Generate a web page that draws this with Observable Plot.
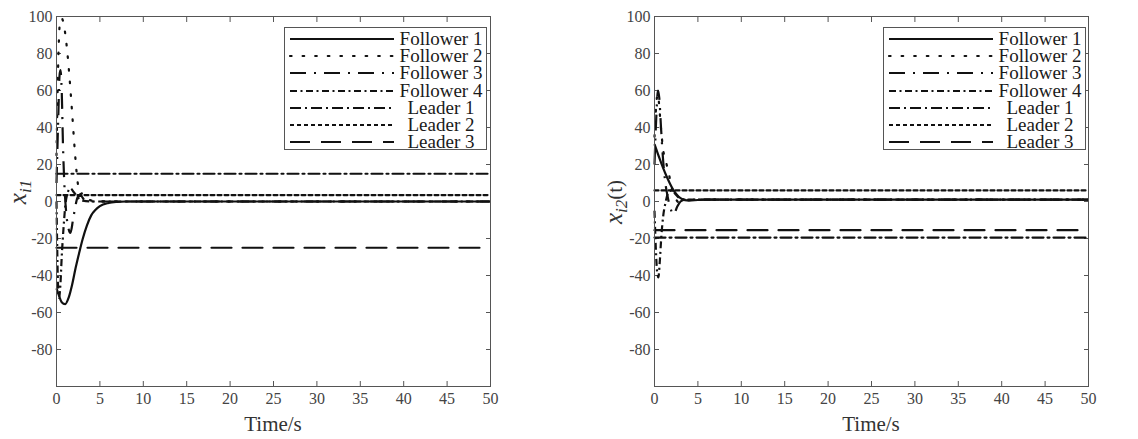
<!DOCTYPE html>
<html><head><meta charset="utf-8">
<script src="https://cdn.jsdelivr.net/npm/d3@7"></script>
<script src="https://cdn.jsdelivr.net/npm/@observablehq/plot@0.6"></script>
<style>
body{margin:0;background:#fff;}
#wrap{position:relative;width:1138px;height:439px;overflow:hidden;background:#fff;font-family:"Liberation Serif";}
.panel{position:absolute;top:0;}
.legend{position:absolute;background:#fff;border:1px solid #555;box-sizing:border-box;}
.legend .row{position:absolute;left:0;width:100%;height:17px;}
.legend .row span{position:absolute;top:0;line-height:17px;font-size:19px;color:#1a1a1a;text-align:center;white-space:nowrap;}
</style></head><body><div id="wrap"></div>
<script>
// ---------- data ----------
const xTicks = [0,5,10,15,20,25,30,35,40,45,50];
const yTicks = [-80,-60,-40,-20,0,20,40,60,80,100];
const seriesNames = ["Follower 1","Follower 2","Follower 3","Follower 4","Leader 1","Leader 2","Leader 3"];
const leaderT = [0, 50];

// Panel 1: x_i1
const p1F1t = [0,0.3,0.6,1.0,1.4,1.8,2.2,2.6,3.0,3.5,4.0,4.5,5.0,6.0,7.0,8.0,50];
const p1F1v = [-47,-51,-54.5,-55.5,-52,-45,-36,-28,-20.5,-13,-7.5,-4.5,-2.5,-0.8,-0.2,0,0];
const p1F2t = [0,0.2,0.4,0.6,0.9,1.2,1.5,1.8,2.1,2.4,2.7,3.0,3.3,3.7,4.5,6,50];
const p1F2v = [25,75,97,99,94,83,67,48,28,12,4,4.5,3,1,0.2,0,0];
const p1F3t = [0,0.2,0.35,0.45,0.6,0.75,0.9,1.1,1.4,1.6,1.9,2.2,2.5,2.8,3.2,4,50];
const p1F3v = [10,45,68,71,60,30,10,-5,-15,-17,-10,-2,3,3,1,0,0];
const p1F4t = [0,0.1,0.2,0.3,0.45,0.6,0.8,1.0,1.3,1.6,2.0,2.5,3,4,50];
const p1F4v = [0,-30,-48,-52,-45,-30,-15,-3,5,7,5,2,0.5,0,0];
const p1Leaders = [15, 3.5, -25];

// Panel 2: x_i2(t)
const p2F1t = [0,0.3,0.6,1.0,1.4,1.8,2.2,2.6,3.0,3.5,4.0,5.0,6.0,50];
const p2F1v = [31,27,23,18,13.5,9.5,6,3.5,1.8,0.7,0.5,0.8,1,1];
const p2F2t = [0,0.2,0.35,0.5,0.7,1.0,1.4,1.7,2.0,2.4,2.8,3.3,4,5,50];
const p2F2v = [35,52,58,54,42,28,20,14,7,2,-0.5,0,0.8,1,1];
const p2F3t = [0,0.2,0.4,0.55,0.75,0.95,1.2,1.5,1.8,2.2,2.6,3.0,3.5,4.5,50];
const p2F3v = [20,45,60,56,40,25,12,3,-3,-7,-3,0,1,1,1];
const p2F4t = [0,0.15,0.3,0.45,0.6,0.8,1.0,1.3,1.6,2.0,2.5,3.0,4,50];
const p2F4v = [-5,-25,-38,-41,-33,-18,-8,0,5,6,3.5,1.5,1,1];
const p2Leaders = [-19.5, 6, -15.5];

// ---------- styles ----------
const dashes = [null, "1.6 11", "16 8 2 8", "7 3.5 2 3.5", "11 4 2 4", "4 3", "20 11"];
const ink = "#111";
const lw = 2.2;
const serif = "Liberation Serif";

function toRows(ts, vs){ return ts.map((t,i)=>({t, v: vs[i]})); }

function makePanel(opts){
  const {left, width, marginLeft, marginRight, followers, leaders, ylab, ylabX, legendLeft} = opts;
  const marks = [
    // tick labels
    Plot.text(xTicks, {x: d => d, frameAnchor: "bottom", dy: 17, text: d => String(d), fontSize: 16, fontFamily: serif, fill: "#444"}),
    Plot.text(yTicks, {y: d => d, frameAnchor: "left", dx: -4, textAnchor: "end", text: d => String(d), fontSize: 16, fontFamily: serif, fill: "#444"}),
    // inward tick marks on all four sides
    Plot.axisX({ticks: xTicks, tickSize: -5, tickFormat: () => "", label: null, stroke: "#555"}),
    Plot.axisX({anchor: "top", ticks: xTicks, tickSize: -5, tickFormat: () => "", label: null, stroke: "#555"}),
    Plot.axisY({ticks: yTicks, tickSize: -5, tickFormat: () => "", label: null, stroke: "#555"}),
    Plot.axisY({anchor: "right", ticks: yTicks, tickSize: -5, tickFormat: () => "", label: null, stroke: "#555"}),
  ];
  leaders.forEach((val, i) => {
    marks.push(Plot.line(toRows(leaderT, [val, val]), {x: "t", y: "v", stroke: ink, strokeWidth: lw, strokeDasharray: dashes[4+i]}));
  });
  followers.slice().reverse().forEach((f) => {
    const i = followers.indexOf(f);
    marks.push(Plot.line(toRows(f[0], f[1]), {x: "t", y: "v", curve: "monotone-x", stroke: ink, strokeWidth: lw, strokeDasharray: dashes[i] || undefined, strokeLinecap: i===1 ? "round" : "butt"}));
  });
  marks.push(Plot.frame({stroke: "#555", strokeWidth: 1}));

  const svg = Plot.plot({
    width, height: 439, marginLeft, marginRight, marginTop: 16, marginBottom: 53,
    x: {domain: [0, 50], axis: null}, y: {domain: [-100, 100], axis: null},
    style: {fontFamily: serif, fontSize: "16px", color: "#444", background: "white", overflow: "visible"},
    marks
  });
  const div = document.createElement("div");
  div.className = "panel";
  div.style.left = left + "px";
  div.appendChild(svg);
  document.getElementById("wrap").appendChild(div);

  const s = d3.select(svg);
  // force the serif face on every label the library drew
  s.selectAll("text").style("font-family", serif).style("font-variant", "normal");
  // x title
  s.append("text").attr("x", marginLeft + (width - marginLeft - marginRight)/2).attr("y", 431)
    .attr("text-anchor","middle").attr("fill","#333")
    .style("font-family", serif).style("font-size","21px").text("Time/s");
  // y title
  const yt = s.append("text").attr("transform", `translate(${ylabX},${ylab.cy}) rotate(-90)`)
    .attr("text-anchor","middle").attr("fill","#333")
    .style("font-family", serif).style("font-size","25px");
  yt.append("tspan").attr("font-style","italic").text("x");
  yt.append("tspan").attr("font-style","italic").attr("font-size","17px").attr("dy","5").text(ylab.sub);
  if (ylab.tail) yt.append("tspan").attr("dy","-5").attr("font-size","21px").text(ylab.tail);

  // legend
  const lg = d3.select("#wrap").append("div").attr("class","legend")
    .style("left", legendLeft + "px").style("top","27px").style("width","203px").style("height","123px");
  seriesNames.forEach((name, i) => {
    const row = lg.append("div").attr("class","row").style("top", (2 + i*17.2) + "px");
    const sv = row.append("svg").attr("width", 112).attr("height", 17).style("position","absolute").style("left","0px");
    sv.append("line").attr("x1", 5).attr("x2", 109).attr("y1", 9).attr("y2", 9)
      .attr("stroke", ink).attr("stroke-width", lw)
      .attr("stroke-dasharray", dashes[i])
      .attr("stroke-linecap", i===1 ? "round" : "butt");
    row.append("span").style("left","112px").style("width","88px").style("font-family", serif).text(name);
  });
}

makePanel({
  left: 0, width: 560, marginLeft: 56, marginRight: 70,
  followers: [[p1F1t,p1F1v],[p1F2t,p1F2v],[p1F3t,p1F3v],[p1F4t,p1F4v]],
  leaders: p1Leaders,
  ylab: {sub: "i1", cy: 192}, ylabX: 26, legendLeft: 284
});
makePanel({
  left: 560, width: 578, marginLeft: 94, marginRight: 50,
  followers: [[p2F1t,p2F1v],[p2F2t,p2F2v],[p2F3t,p2F3v],[p2F4t,p2F4v]],
  leaders: p2Leaders,
  ylab: {sub: "i2", tail: "(t)", cy: 202}, ylabX: 62, legendLeft: 883
});
</script></body></html>
